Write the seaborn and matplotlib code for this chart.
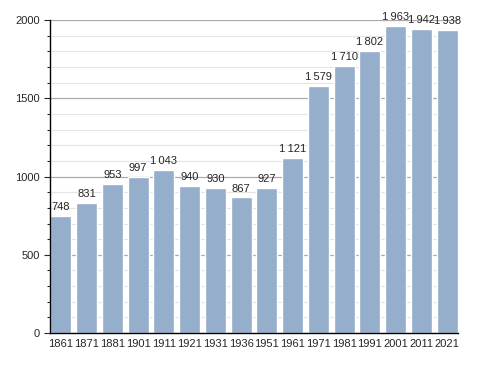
import numpy as np
import pandas as pd
import matplotlib
matplotlib.use("Agg")
import matplotlib.pyplot as plt
import seaborn as sns
from matplotlib.ticker import MultipleLocator

# dados
anos = ["1861", "1871", "1881", "1901", "1911", "1921", "1931", "1936",
        "1951", "1961", "1971", "1981", "1991", "2001", "2011", "2021"]
populacao = [748, 831, 953, 997, 1043, 940, 930, 867,
             927, 1121, 1579, 1710, 1802, 1963, 1942, 1938]

df = pd.DataFrame({"ano": anos, "pop": populacao})

sns.set_style("white")
plt.rcParams["font.family"] = ["Liberation Sans", "DejaVu Sans"]

fig = plt.figure(figsize=(4.88, 3.73), dpi=100)
ax = fig.add_axes([0.1025, 0.107, 0.836, 0.839])

sns.barplot(data=df, x="ano", y="pop", color="#94AECB", saturation=1,
            width=0.81, ax=ax, zorder=3)

ax.set_ylim(0, 2000)
ax.set_xlim(-0.42, len(anos) - 0.58)
ax.yaxis.set_major_locator(MultipleLocator(500))
ax.yaxis.set_minor_locator(MultipleLocator(100))
ax.grid(axis="y", which="major", color="#aaaaaa", lw=0.9, zorder=0)
ax.grid(axis="y", which="minor", color="#e4e4e4", lw=0.8, zorder=0)
ax.set_axisbelow(True)

for s in ["top", "right"]:
    ax.spines[s].set_visible(False)
for s in ["left", "bottom"]:
    ax.spines[s].set_color("black")
    ax.spines[s].set_linewidth(1)
    ax.spines[s].set_zorder(5)

ax.tick_params(axis="y", which="major", left=True, length=4, width=0.8, labelsize=8)
ax.tick_params(axis="y", which="minor", left=True, length=2.5, width=0.8)
ax.tick_params(axis="x", bottom=False, labelsize=8, pad=1)
ax.set_xlabel("")
ax.set_ylabel("")

for i, v in enumerate(populacao):
    txt = f"{v:,}".replace(",", "\u2009")
    ax.text(i, v + 25, txt, ha="center", va="bottom", fontsize=8, zorder=4)

fig.savefig("out.png", dpi=100)
